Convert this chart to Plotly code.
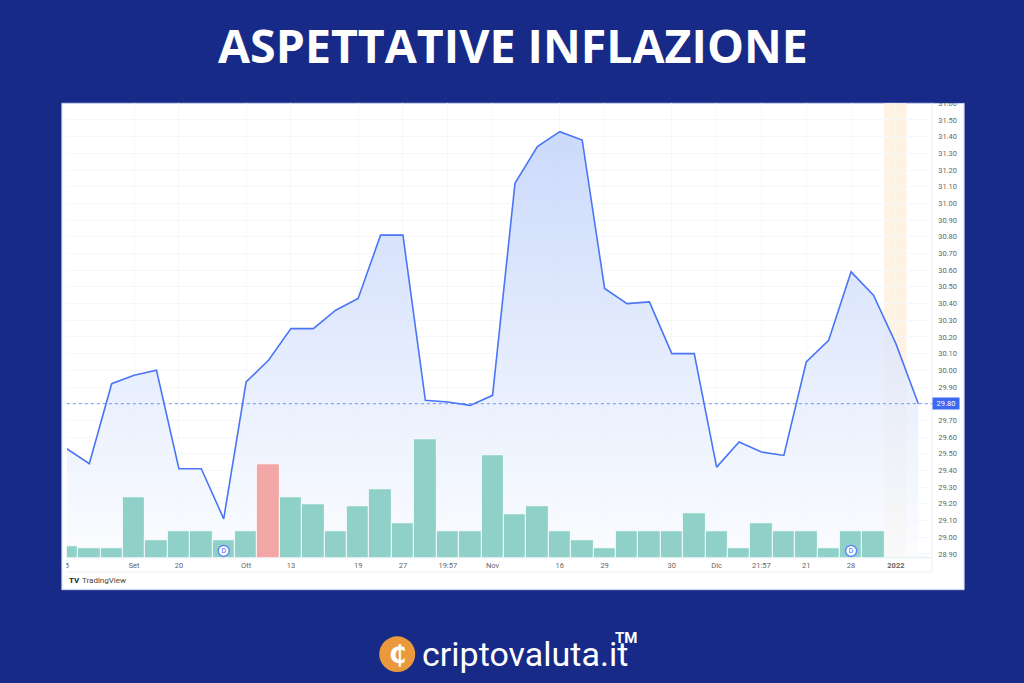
import plotly.graph_objects as go

price = [29.53, 29.44, 29.92, 29.97, 30.00, 29.41, 29.41, 29.11, 29.93, 30.06,
         30.25, 30.25, 30.36, 30.43, 30.81, 30.81, 29.82, 29.81, 29.79, 29.85,
         31.12, 31.34, 31.43, 31.38, 30.49, 30.40, 30.41, 30.10, 30.10, 29.42,
         29.57, 29.51, 29.49, 30.05, 30.18, 30.59, 30.45, 30.16, 29.80]
volume = [12, 10, 10, 61, 18, 27, 27, 18, 27, 94,
          61, 54, 27, 52, 69, 35, 120, 27, 27, 103,
          44, 52, 27, 18, 10, 27, 27, 27, 45, 27,
          10, 35, 27, 27, 10, 27, 27, 1, 1]
session = list(range(len(price)))
red_sessions = [9]
dividend_sessions = [7, 35]
tick_sessions = [0, 3, 5, 8, 10, 13, 15, 17, 19, 22, 24, 27, 29, 31, 33, 35, 37]
tick_labels = ["5", "Set", "20", "Ott", "13", "19", "27", "19:57", "Nov", "16", "29",
               "30", "Dic", "21:57", "21", "28", "<b>2022</b>"]
price_ticks = [round(28.9 + 0.1 * i, 2) for i in range(28)]
highlight_session = 37

NAVY = "#172a88"
BLUE = "#4a76f6"
GREEN = "#8fd0c8"
RED = "#f3a6a6"
GRID = "#f6f7fa"
W, H = 1024, 683
def px(x): return x / W
def py(y): return 1 - y / H

fig = go.Figure()
fig.add_trace(go.Scatter(
    x=session, y=price, mode="lines", line=dict(color=BLUE, width=1.6), fill="tozeroy",
    fillgradient=dict(type="vertical", start=max(price), stop=28.88,
                      colorscale=[[0, "rgba(190,208,250,0.8)"], [1, "rgba(250,252,255,0.75)"]]),
    hoverinfo="skip", yaxis="y"))
fig.add_trace(go.Bar(
    x=session, y=volume, width=1,
    marker=dict(color=[RED if s in red_sessions else GREEN for s in session],
                line=dict(color="rgba(255,255,255,0.85)", width=1)),
    hoverinfo="skip", yaxis="y2"))
fig.add_trace(go.Scatter(
    x=dividend_sessions, y=[7 for _ in dividend_sessions], mode="markers+text", text=["D"] * len(dividend_sessions),
    textposition="middle center", textfont=dict(family="Roboto", size=7, color="#2f5ff0"),
    marker=dict(size=11, color="white", line=dict(color="#5f85f5", width=1.4)),
    hoverinfo="skip", yaxis="y2"))

shapes = [
    dict(type="rect", xref="paper", yref="paper", x0=px(60), x1=px(964), y0=py(590), y1=py(100),
         fillcolor="white", line=dict(color="#c9cfee", width=1), layer="below"),
    dict(type="rect", xref="x", yref="paper", x0=highlight_session - 0.52, x1=highlight_session + 0.48,
         y0=py(558), y1=py(100), fillcolor="#fdf2e3", line_width=0, layer="below"),
    dict(type="line", xref="paper", yref="y", x0=px(65), x1=px(932), y0=price[-1], y1=price[-1],
         line=dict(color="rgba(74,118,246,0.75)", width=1, dash="dot")),
    dict(type="line", xref="paper", yref="paper", x0=px(932), x1=px(932), y0=py(572), y1=py(100),
         line=dict(color="#eceef3", width=1), layer="below"),
    dict(type="line", xref="paper", yref="paper", x0=px(65), x1=px(932), y0=py(558), y1=py(558),
         line=dict(color="#eceef3", width=1), layer="below"),
    dict(type="line", xref="paper", yref="paper", x0=px(65), x1=px(932), y0=py(572), y1=py(572),
         line=dict(color="#eef0f4", width=1), layer="below"),
    # clip the half-visible labels at the panel edges
    dict(type="rect", xref="paper", yref="paper", x0=px(934), x1=px(963), y0=py(99.5), y1=py(92),
         fillcolor=NAVY, line_width=0, layer="above"),
    dict(type="rect", xref="paper", yref="paper", x0=px(60.5), x1=px(64.5), y0=py(571), y1=py(560),
         fillcolor="white", line_width=0, layer="above"),
    # logo disc
    dict(type="circle", xref="paper", yref="paper", x0=px(378), x1=px(414), y0=py(673), y1=py(637),
         fillcolor="#ea9a3d", line_width=0, layer="below"),
]

annotations = [
    dict(text="<b>ASPETTATIVE INFLAZIONE</b>", x=px(512), y=py(41), font=dict(family="Open Sans", size=46.5, color="white")),
    dict(text=f"{price[-1]:.2f}", x=px(932), xanchor="left", y=price[-1], yref="y", width=26, height=11,
         bgcolor="#3c68f3", font=dict(family="Roboto", size=7.5, color="white"), borderpad=0),
    dict(text="<b>TV</b>", x=px(65), xanchor="left", y=py(581), font=dict(family="Roboto", size=8, color="#222")),
    dict(text="TradingView", x=px(78), xanchor="left", y=py(581), font=dict(family="Roboto", size=8, color="#444")),
    dict(text="<b>₵</b>", x=px(396), y=py(655), font=dict(family="DejaVu Sans", size=25, color="white")),
    dict(text="criptovaluta.it", x=px(419), xanchor="left", y=py(655), font=dict(family="Roboto", size=34, color="white")),
    dict(text="<b>TM</b>", x=px(612), xanchor="left", y=py(639), font=dict(family="Roboto", size=15, color="white")),
]
for a in annotations:
    a.setdefault("xref", "paper")
    a.setdefault("yref", "paper")
    a["showarrow"] = False
    a["yanchor"] = "middle"

fig.update_layout(
    width=W, height=H, margin=dict(l=0, r=0, t=0, b=0),
    paper_bgcolor=NAVY, plot_bgcolor="rgba(0,0,0,0)", showlegend=False, hovermode=False,
    bargap=0, shapes=shapes, annotations=annotations,
    xaxis=dict(domain=[px(65), px(932)], range=[0, 38.62], tickmode="array",
               tickvals=tick_sessions, ticktext=tick_labels, ticks="", ticklabelstandoff=2,
               showgrid=True, gridcolor=GRID, gridwidth=1, zeroline=False, showline=False,
               tickfont=dict(family="Roboto", size=7.5, color="#666")),
    yaxis=dict(domain=[py(558), py(100)], range=[28.876, 31.6], side="right", anchor="x",
               tickmode="array", tickvals=price_ticks, ticktext=[f"{t:.2f}" for t in price_ticks],
               ticks="", showgrid=True, gridcolor=GRID, gridwidth=1, zeroline=False, showline=False,
               ticklabelstandoff=5,
               tickfont=dict(family="Roboto", size=7.5, color="#666")),
    yaxis2=dict(domain=[py(558), py(100)], overlaying="y", range=[0, 458], visible=False),
)

fig.write_html("out.html", config={"displayModeBar": False},
               post_script="document.body.style.margin='0';")
